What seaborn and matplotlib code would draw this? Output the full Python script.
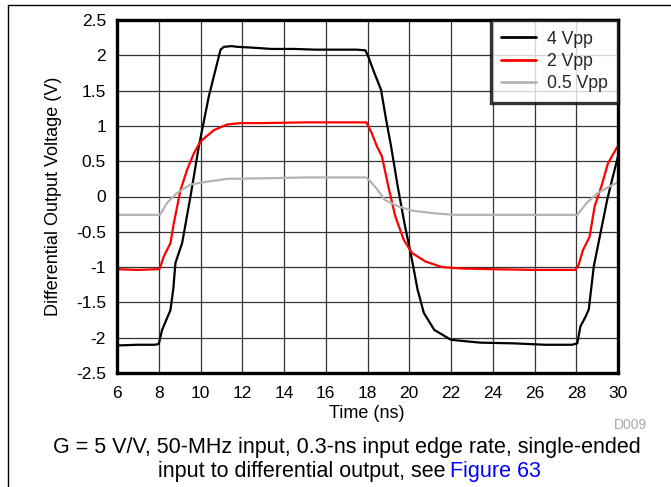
import numpy as np
import pandas as pd
import matplotlib
matplotlib.use("Agg")
import matplotlib.pyplot as plt
import seaborn as sns
from matplotlib.lines import Line2D

# values (time in ns, voltage in V)
t_4vpp = [6, 7, 7.8, 8.0, 8.16, 8.4, 8.56, 8.7, 8.8, 9.12, 9.52, 9.92, 10.4, 10.96, 11.12,
          11.5, 11.76, 12.4, 13.4, 14.5, 15.5, 16.5, 17.5, 17.9, 18.04, 18.33, 18.65, 18.89,
          19.13, 19.45, 19.77, 20.1, 20.4, 20.7, 21.2, 22.0, 23.4, 25, 26.5, 27.8, 28.05,
          28.2, 28.45, 28.6, 28.84, 29.16, 29.48, 29.72, 30]
v_4vpp = [-2.11, -2.1, -2.1, -2.09, -1.89, -1.72, -1.61, -1.3, -0.94, -0.66, 0.0, 0.71, 1.42,
          2.08, 2.12, 2.13, 2.12, 2.11, 2.09, 2.09, 2.08, 2.08, 2.08, 2.07, 1.98, 1.75, 1.51,
          1.09, 0.71, 0.14, -0.38, -0.85, -1.32, -1.65, -1.89, -2.03, -2.07, -2.08, -2.1,
          -2.1, -2.08, -1.84, -1.7, -1.6, -0.99, -0.52, -0.05, 0.24, 0.57]

t_2vpp = [6, 7, 7.95, 8.05, 8.24, 8.56, 8.72, 9.04, 9.36, 9.68, 10.0, 10.64, 11.28, 11.92,
          13, 15, 17, 17.95, 18.2, 18.45, 18.69, 19.0, 19.33, 19.73, 20.13, 20.77, 21.57,
          22.5, 24, 26, 27.95, 28.1, 28.32, 28.64, 28.88, 29.2, 29.52, 29.92, 30]
v_2vpp = [-1.03, -1.04, -1.03, -1.02, -0.85, -0.66, -0.38, 0.09, 0.38, 0.61, 0.78, 0.94, 1.02,
          1.04, 1.04, 1.05, 1.05, 1.05, 0.9, 0.71, 0.57, 0.14, -0.28, -0.61, -0.8, -0.92, -1.0,
          -1.02, -1.03, -1.04, -1.04, -0.98, -0.76, -0.57, -0.14, 0.14, 0.47, 0.68, 0.71]

t_05vpp = [6, 7, 8.0, 8.08, 8.4, 8.88, 9.52, 10.32, 11.28, 13.4, 15, 17, 17.95, 18.36,
           18.84, 19.48, 20.13, 21.25, 22.2, 24, 26, 28.05, 28.5, 29.04, 29.52, 29.92, 30]
v_05vpp = [-0.26, -0.26, -0.26, -0.25, -0.09, 0.05, 0.17, 0.21, 0.25, 0.26, 0.27, 0.27, 0.27,
           0.14, -0.05, -0.14, -0.2, -0.24, -0.26, -0.26, -0.26, -0.26, -0.09, 0.05, 0.13,
           0.19, 0.2]

series = [("4 Vpp", t_4vpp, v_4vpp, "black"),
          ("2 Vpp", t_2vpp, v_2vpp, "#ff0000"),
          ("0.5 Vpp", t_05vpp, v_05vpp, "#b4b4b4")]

x_ticks = np.arange(6, 31, 2)
y_ticks = np.arange(-2.5, 2.51, 0.5)

sns.set_theme(style="white")
plt.rcParams["font.family"] = ["Liberation Sans", "DejaVu Sans"]

W, H = 671, 487
fig = plt.figure(figsize=(W / 100, H / 100), dpi=100)
ax = fig.add_axes([117 / W, 1 - 373 / H, (618 - 117) / W, (373 - 20) / H])

for name, t, v, c in series:
    df = pd.DataFrame({"t": t, "v": v})
    sns.lineplot(data=df, x="t", y="v", ax=ax, color=c, lw=1.6, label=name,
                 estimator=None, sort=False)

ax.set_xlim(6, 30)
ax.set_ylim(-2.5, 2.5)
ax.set_xticks(x_ticks)
ax.set_yticks(y_ticks)
ax.set_xticklabels([f"{x:g}" for x in x_ticks])
ax.set_yticklabels([f"{y:g}" for y in y_ticks])
ax.tick_params(length=0, labelsize=12.5, colors="black")
ax.tick_params(axis="x", pad=9)
ax.tick_params(axis="y", pad=8)
ax.grid(True, color="#333333", lw=0.9)
for s in ax.spines.values():
    s.set_color("black")
    s.set_linewidth(2.4)
ax.set_xlabel("Time (ns)", fontsize=13, color="black")
ax.set_ylabel("Differential Output Voltage (V)", fontsize=13, color="black")
ax.xaxis.set_label_coords((367 - 117) / 501, -(405 - 373) / 353)
ax.yaxis.set_label_coords(-(117 - 62) / 501, 0.5)

leg = ax.legend(loc="upper right", fontsize=12.7, frameon=True, fancybox=False,
                borderaxespad=0, handlelength=2.0, handletextpad=0.57,
                labelspacing=0.3, borderpad=0.6)
leg.get_frame().set_edgecolor("black")
leg.get_frame().set_linewidth(2.4)
for h in leg.get_lines():
    h.set_linewidth(2)

# page frame lines
fig.add_artist(Line2D([8 / W, 1], [1 - 5 / H, 1 - 5 / H], color="black", lw=1))
fig.add_artist(Line2D([8 / W, 8 / W], [0, 1 - 5 / H], color="black", lw=1))

fig.text(630 / W, 1 - 425 / H, "D009", fontsize=10, color="#a8a8a8", ha="center", va="center")
fig.text(347 / W, 1 - 453 / H,
         "G = 5 V/V, 50-MHz input, 0.3-ns input edge rate, single-ended",
         fontsize=15.5, ha="center", va="baseline", color="black")
fig.text(445 / W, 1 - 477 / H, "input to differential output, see",
         fontsize=15.5, ha="right", va="baseline", color="black")
fig.text(450 / W, 1 - 477 / H, "Figure 63",
         fontsize=15.5, ha="left", va="baseline", color="#0000ff")

fig.savefig("out.png", dpi=100)
